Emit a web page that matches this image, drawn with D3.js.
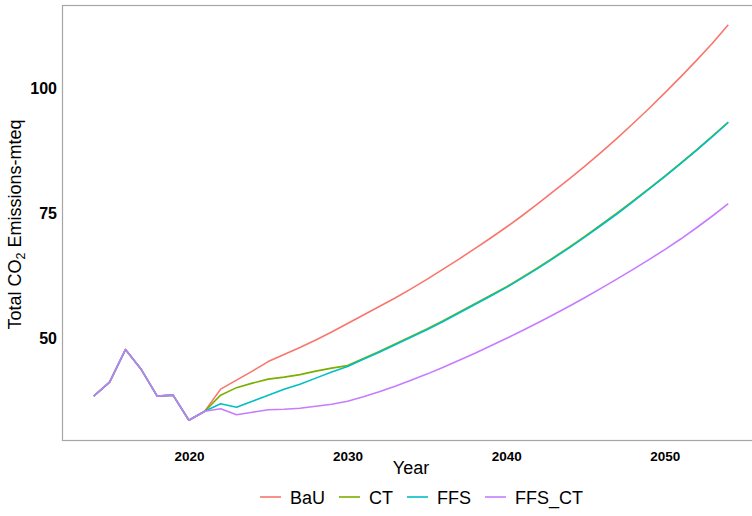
<!DOCTYPE html>
<html>
<head>
<meta charset="utf-8">
<script src="https://cdn.jsdelivr.net/npm/d3@7/dist/d3.min.js"></script>
<style>
  html, body { margin: 0; padding: 0; background: #fff; }
  svg { display: block; font-family: "Liberation Sans", Arial, Helvetica, sans-serif; }
</style>
</head>
<body>
<svg id="chart" width="752" height="516"></svg>
<script>
// Years covered by every scenario
const years = [2014, 2015, 2016, 2017, 2018, 2019, 2020, 2021, 2022, 2023, 2024,
  2025, 2026, 2027, 2028, 2029, 2030, 2031, 2032, 2033, 2034, 2035, 2036, 2037,
  2038, 2039, 2040, 2041, 2042, 2043, 2044, 2045, 2046, 2047, 2048, 2049, 2050,
  2051, 2052, 2053, 2054];

// Observed emissions shared by all scenarios (2014-2021)
const history = [38.5, 41.3, 47.8, 43.8, 38.5, 38.7, 33.7, 35.5];

// Scenario projections, 2022-2054
const bau = [39.9, 41.7, 43.5, 45.4, 46.8, 48.2, 49.7, 51.3, 53.0, 54.7, 56.4,
  58.1, 59.9, 61.8, 63.8, 65.8, 67.9, 70.0, 72.2, 74.5, 76.9, 79.4, 81.9, 84.5,
  87.2, 90.0, 92.9, 95.9, 99.0, 102.2, 105.5, 108.9, 112.6];
const ct = [38.7, 40.2, 41.1, 41.9, 42.3, 42.8, 43.5, 44.1, 44.6, 46.0, 47.4,
  48.9, 50.4, 51.9, 53.5, 55.2, 56.9, 58.6, 60.3, 62.2, 64.15, 66.2, 68.3, 70.5,
  72.75, 75.05, 77.45, 79.9, 82.4, 85.0, 87.65, 90.4, 93.2];
const ffs = [37.0, 36.3, 37.5, 38.7, 39.9, 40.9, 42.1, 43.3, 44.4, 45.85, 47.25,
  48.75, 50.25, 51.75, 53.35, 55.05, 56.75, 58.45, 60.15, 62.05, 64.0, 66.05,
  68.15, 70.35, 72.6, 74.9, 77.3, 79.8, 82.3, 84.9, 87.55, 90.3, 93.1];
const ffsCt = [36.0, 34.8, 35.3, 35.8, 35.9, 36.1, 36.5, 36.9, 37.5, 38.4, 39.4,
  40.5, 41.7, 42.9, 44.2, 45.6, 47.0, 48.5, 50.0, 51.55, 53.15, 54.8, 56.5,
  58.25, 60.05, 61.9, 63.8, 65.75, 67.75, 69.85, 72.1, 74.45, 76.9];

const scenarioNames = ["BaU", "CT", "FFS", "FFS_CT"];
const scenarioColors = ["#F8766D", "#7CAE00", "#00BFC4", "#C77CFF"];
const xTicks = [2020, 2030, 2040, 2050];
const yTicks = [50, 75, 100];

const series = [bau, ct, ffs, ffsCt].map((proj, i) => ({
  name: scenarioNames[i],
  color: scenarioColors[i],
  values: history.concat(proj).map((v, j) => ({ year: years[j], value: v }))
}));

const svg = d3.select("#chart");
const panel = { left: 62, right: 760, top: 5, bottom: 440 };

// ggplot-style 5% expansion on both axes
const xExt = d3.extent(years);
const xPad = (xExt[1] - xExt[0]) * 0.05;
const allValues = series.flatMap(s => s.values.map(d => d.value));
const yExt = d3.extent(allValues);
const yPad = (yExt[1] - yExt[0]) * 0.05;

const x = d3.scaleLinear()
  .domain([xExt[0] - xPad, xExt[1] + xPad])
  .range([panel.left, panel.right]);
const y = d3.scaleLinear()
  .domain([yExt[0] - yPad, yExt[1] + yPad])
  .range([panel.bottom, panel.top]);

// Lines
const line = d3.line().x(d => x(d.year)).y(d => y(d.value));
svg.append("g")
  .selectAll("path")
  .data(series)
  .join("path")
  .attr("fill", "none")
  .attr("stroke", d => d.color)
  .attr("stroke-width", 1.6)
  .attr("stroke-linejoin", "round")
  .attr("d", d => line(d.values));

// Panel border
svg.append("rect")
  .attr("x", panel.left + 0.5)
  .attr("y", panel.top + 0.5)
  .attr("width", panel.right - panel.left)
  .attr("height", panel.bottom - panel.top)
  .attr("fill", "none")
  .attr("stroke", "#a6a6a6")
  .attr("stroke-width", 1.2);

// Axes without tick marks or domain lines
const xAxis = svg.append("g")
  .attr("transform", `translate(0,${panel.bottom})`)
  .call(d3.axisBottom(x).tickValues(xTicks).tickFormat(d3.format("d")).tickSize(0).tickPadding(11));
xAxis.select(".domain").remove();
xAxis.selectAll("text")
  .attr("font-family", "Liberation Sans, Arial, sans-serif")
  .attr("font-size", 13.5)
  .attr("font-weight", "bold")
  .attr("fill", "#000");

const yAxis = svg.append("g")
  .attr("transform", `translate(${panel.left},0)`)
  .call(d3.axisLeft(y).tickValues(yTicks).tickSize(0).tickPadding(5));
yAxis.select(".domain").remove();
yAxis.selectAll("text")
  .attr("font-family", "Liberation Sans, Arial, sans-serif")
  .attr("font-size", 16)
  .attr("font-weight", "bold")
  .attr("fill", "#000");

// Axis titles
svg.append("text")
  .attr("x", (panel.left + panel.right) / 2)
  .attr("y", 474)
  .attr("text-anchor", "middle")
  .attr("font-size", 18)
  .attr("fill", "#000")
  .text("Year");

const yTitle = svg.append("text")
  .attr("transform", `translate(21,${(panel.top + panel.bottom) / 2 + 2}) rotate(-90)`)
  .attr("text-anchor", "middle")
  .attr("font-size", 18)
  .attr("fill", "#000");
yTitle.append("tspan").text("Total CO");
yTitle.append("tspan").attr("font-size", 12.5).attr("dy", 4).text("2");
yTitle.append("tspan").attr("dy", -4).text(" Emissions-mteq");

// Legend along the bottom
const legend = svg.append("g");
const keyLen = 21, keyGap = 9, itemGap = 14, legendY = 497;
let cursor = 0;
series.forEach(s => {
  const g = legend.append("g");
  g.append("line")
    .attr("x1", 0).attr("x2", keyLen)
    .attr("y1", 0).attr("y2", 0)
    .attr("stroke", s.color)
    .attr("stroke-width", 1.6);
  const t = g.append("text")
    .attr("x", keyLen + keyGap)
    .attr("y", 6.5)
    .attr("font-size", 18)
    .attr("fill", "#000")
    .text(s.name);
  const w = keyLen + keyGap + t.node().getComputedTextLength();
  g.attr("transform", `translate(${cursor},0)`);
  cursor += w + itemGap;
});
const legendWidth = cursor - itemGap;
legend.attr("transform", `translate(${(panel.left + panel.right) / 2 - legendWidth / 2 + 10.5},${legendY})`);
</script>
</body>
</html>
